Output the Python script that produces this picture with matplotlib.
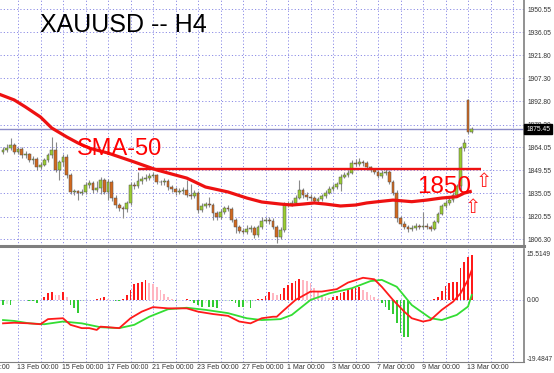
import matplotlib
matplotlib.use("Agg")
import matplotlib.pyplot as plt
import matplotlib.transforms as mtransforms

plt.rcParams['font.family'] = ['Liberation Sans', 'DejaVu Sans']

# XAUUSD H4 candles, oldest first (bar index = position on chart)
opens = [1861.0, 1862.4, 1863.7, 1865.5, 1861.2, 1863.0, 1859.2, 1859.5, 1856.1, 1856.8,
         1851.7, 1853.0, 1856.1, 1859.2, 1862.4, 1849.9, 1854.9, 1858.0, 1846.7, 1836.0,
         1836.3, 1835.4, 1836.0, 1840.4, 1841.7, 1837.3, 1838.6, 1843.6, 1836.0, 1842.3,
         1832.3, 1827.9, 1826.0, 1825.4, 1829.1, 1840.4, 1839.8, 1842.9, 1844.2, 1844.8,
         1846.1, 1846.4, 1842.3, 1842.0, 1842.9, 1839.2, 1837.9, 1836.0, 1836.7, 1837.3,
         1834.2, 1833.5, 1835.4, 1824.8, 1827.3, 1828.5, 1827.9, 1822.9, 1820.4, 1823.5,
         1826.0, 1825.4, 1818.5, 1814.1, 1811.6, 1810.9, 1812.8, 1813.2, 1809.1, 1814.1,
         1817.8, 1818.5, 1817.8, 1814.1, 1807.8, 1812.2, 1827.9, 1828.3, 1829.1, 1832.3,
         1837.3, 1834.2, 1832.9, 1832.3, 1830.4, 1831.6, 1833.5, 1835.4, 1837.9, 1839.2,
         1841.1, 1845.5, 1846.7, 1848.0, 1854.2, 1853.6, 1854.5, 1854.2, 1851.7, 1849.9,
         1848.6, 1846.1, 1848.0, 1848.6, 1842.3, 1835.4, 1819.7, 1816.0, 1814.1, 1812.8,
         1813.5, 1814.7, 1814.1, 1814.7, 1814.1, 1812.8, 1817.2, 1822.3, 1827.3, 1829.1,
         1831.0, 1834.2, 1839.8, 1863.7, 1893.8, 1873.7]
highs = [1864.5, 1866.0, 1870.0, 1867.0, 1864.5, 1864.0, 1861.5, 1860.5, 1858.5, 1858.0,
         1855.0, 1857.5, 1860.5, 1870.5, 1867.5, 1856.0, 1860.0, 1859.5, 1848.0, 1838.0,
         1837.5, 1838.0, 1842.0, 1843.5, 1843.0, 1843.0, 1845.5, 1845.0, 1844.0, 1843.5,
         1834.0, 1829.0, 1827.5, 1830.5, 1842.0, 1842.5, 1848.5, 1846.0, 1847.0, 1848.0,
         1848.5, 1847.5, 1843.5, 1844.5, 1844.0, 1840.5, 1839.0, 1838.5, 1839.0, 1843.5,
         1841.0, 1837.0, 1836.5, 1829.0, 1830.0, 1833.0, 1829.0, 1824.0, 1825.0, 1827.5,
         1828.0, 1826.5, 1819.5, 1815.5, 1813.5, 1815.0, 1815.5, 1814.5, 1815.5, 1820.0,
         1820.5, 1820.0, 1819.5, 1815.5, 1814.0, 1830.0, 1830.5, 1831.0, 1834.0, 1843.6,
         1838.5, 1836.0, 1834.5, 1833.5, 1833.0, 1835.0, 1837.0, 1839.5, 1841.0, 1842.5,
         1847.0, 1848.5, 1849.5, 1856.0, 1856.5, 1857.0, 1856.0, 1855.5, 1852.5, 1851.0,
         1850.0, 1849.5, 1850.5, 1849.5, 1843.5, 1837.0, 1821.0, 1817.5, 1815.5, 1815.0,
         1816.5, 1816.0, 1823.5, 1816.5, 1815.5, 1818.5, 1823.5, 1828.5, 1831.0, 1833.5,
         1836.0, 1841.0, 1865.0, 1869.0, 1894.0, 1876.5]
lows = [1859.5, 1861.0, 1862.5, 1859.8, 1859.5, 1857.5, 1857.0, 1854.5, 1853.5, 1850.0,
        1850.5, 1852.0, 1855.0, 1857.5, 1848.5, 1843.6, 1852.0, 1845.0, 1834.5, 1834.0,
        1831.0, 1834.0, 1835.0, 1838.5, 1835.5, 1836.0, 1835.0, 1834.5, 1831.0, 1830.5,
        1826.0, 1824.0, 1819.7, 1823.5, 1828.0, 1838.0, 1838.5, 1841.0, 1843.0, 1843.5,
        1844.5, 1841.0, 1840.5, 1840.5, 1837.5, 1836.0, 1834.0, 1834.5, 1835.0, 1833.0,
        1831.5, 1832.0, 1823.0, 1823.5, 1826.0, 1826.5, 1818.5, 1818.5, 1819.0, 1822.0,
        1824.0, 1817.0, 1810.5, 1810.0, 1809.5, 1809.5, 1811.0, 1807.0, 1807.5, 1813.0,
        1816.5, 1816.0, 1812.5, 1804.1, 1806.5, 1811.0, 1826.5, 1827.0, 1828.0, 1831.5,
        1832.5, 1831.0, 1830.5, 1829.0, 1829.5, 1830.5, 1832.5, 1834.5, 1836.5, 1838.0,
        1836.5, 1844.5, 1845.5, 1847.0, 1852.0, 1852.5, 1852.5, 1850.0, 1848.5, 1847.0,
        1845.0, 1845.0, 1846.5, 1841.0, 1834.0, 1817.0, 1814.5, 1812.5, 1811.0, 1811.5,
        1812.0, 1812.5, 1813.0, 1812.5, 1811.5, 1812.0, 1816.5, 1821.5, 1826.0, 1828.0,
        1830.0, 1833.5, 1836.0, 1862.0, 1872.5, 1873.0]
closes = [1862.4, 1863.7, 1865.5, 1861.2, 1863.0, 1859.2, 1859.5, 1856.1, 1856.8, 1851.7,
          1853.0, 1856.1, 1859.2, 1862.4, 1849.9, 1854.9, 1858.0, 1846.7, 1836.0, 1836.3,
          1835.4, 1836.0, 1840.4, 1841.7, 1837.3, 1838.6, 1843.6, 1836.0, 1842.3, 1832.3,
          1827.9, 1826.0, 1825.4, 1829.1, 1840.4, 1839.8, 1842.9, 1844.2, 1844.8, 1846.1,
          1846.4, 1842.3, 1842.0, 1842.9, 1839.2, 1837.9, 1836.0, 1836.7, 1837.3, 1834.2,
          1833.5, 1835.4, 1824.8, 1827.3, 1828.5, 1827.9, 1822.9, 1820.4, 1823.5, 1826.0,
          1825.4, 1818.5, 1814.1, 1811.6, 1810.9, 1812.8, 1813.2, 1809.1, 1814.1, 1817.8,
          1818.5, 1817.8, 1814.1, 1807.8, 1812.2, 1827.9, 1828.3, 1829.1, 1832.3, 1837.3,
          1834.2, 1832.9, 1832.3, 1830.4, 1831.6, 1833.5, 1835.4, 1837.9, 1839.2, 1841.1,
          1845.5, 1846.7, 1848.0, 1854.2, 1853.6, 1854.5, 1854.2, 1851.7, 1849.9, 1848.6,
          1846.1, 1848.0, 1848.6, 1842.3, 1835.4, 1819.7, 1816.0, 1814.1, 1812.8, 1813.5,
          1814.7, 1814.1, 1814.7, 1814.1, 1812.8, 1817.2, 1822.3, 1827.3, 1829.1, 1831.0,
          1834.2, 1839.8, 1863.7, 1866.8, 1873.7, 1875.45]

# SMA-50 (bar index, price)
sma_idx = [-1, 3, 6, 10, 13, 17, 20, 23, 28, 35, 41, 46, 49, 54, 60, 65, 69, 74, 77, 80,
           83, 86, 90, 94, 97, 100, 104, 109, 113, 117, 121, 123, 125]
sma_val = [1897.3, 1893.7, 1889.3, 1883.0, 1876.1, 1870.5, 1866.7, 1863.5, 1860.4, 1854.8,
           1849.8, 1846.6, 1844.7, 1839.1, 1836.0, 1832.2, 1829.7, 1828.4, 1827.8, 1828.4,
           1829.1, 1828.4, 1827.2, 1827.8, 1829.1, 1829.9, 1830.9, 1829.9, 1830.9, 1832.2,
           1833.0, 1835.3, 1836.5]

level_1850 = 1850.2
last_price = 1875.45
price_ticks = [1950.55, 1936.05, 1921.80, 1907.30, 1892.80, 1878.30, 1864.05,
               1849.55, 1835.05, 1820.55, 1806.30]

# MACD panel
hist = [-1.7, -1.2, -1.7, -0.3, -0.2, -0.1, 0.1, -0.2, -0.3, -0.9,
        0.1, 0.9, 2.2, 2.8, 1.7, 1.6, 2.8, 0.9, -1.7, -2.8,
        -4.2, -0.3, -0.2, 0.0, 0.1, 0.2, 0.6, 1.1, 0.2, 0.1,
        -0.3, -0.3, 0.4, 1.7, 3.3, 5.2, 5.8, 6.1, 6.7, 5.8,
        5.2, 4.4, 3.3, 2.0, 0.9, 0.3, -0.3, -0.2, 0.1, 0.2,
        -0.2, -1.0, -1.7, -2.2, -1.0, -2.2, -2.2, -2.8, -0.5, -0.3,
        -0.2, -0.5, -1.1, -2.2, -2.2, -1.0, -2.8, -0.3, 0.3, 0.3,
        1.3, 2.6, 2.2, 1.7, 2.0, 3.9, 5.0, 5.8, 6.4, 7.0,
        6.8, 6.4, 5.6, 3.9, 2.8, 1.7, 1.1, 0.6, 1.1, 1.3,
        2.2, 2.8, 3.3, 3.9, 4.1, 4.2, 3.3, 2.8, 1.7, 0.9,
        0.2, -1.1, -2.2, -3.3, -4.7, -7.8, -10.9, -12.2, -12.4, -0.1,
        0.0, 0.05, 0.1, 0.05, 0.1, 0.3, 0.9, 3.1, 4.8, 5.8,
        6.1, 6.1, 10.6, 12.8, 14.4, 15.0]
macd_idx = [0, 3, 7, 10, 12, 16, 18, 21, 23, 25, 26, 28, 31, 34, 37, 40, 44, 49, 52, 56,
            60, 63, 66, 69, 72, 73, 75, 78, 82, 85, 89, 92, 96, 99, 101, 104, 107, 109, 112, 114,
            117, 120, 122, 124, 125]
macd_val = [-7.8, -7.6, -7.8, -8.1, -6.4, -6.1, -8.3, -9.4, -9.4, -10.0, -8.9, -9.1, -9.4, -6.1,
            -3.9, -2.4, -2.8, -2.8, -3.9, -4.7, -5.3, -7.2, -7.8, -6.1, -5.6, -5.6, -3.3, 0.0,
            2.8, 2.8, 3.6, 5.8, 7.4, 6.9, 4.4, 0.0, -3.9, -6.1, -7.2, -6.7, -3.3, -0.6, 2.2,
            6.7, 10.0]
sig_idx = [0, 3, 7, 11, 16, 21, 26, 31, 35, 39, 44, 49, 54, 60, 65, 69, 74, 77, 82, 87,
           93, 98, 101, 105, 109, 114, 117, 121, 124, 125]
sig_val = [-6.7, -7.0, -7.8, -8.1, -7.2, -7.8, -9.1, -9.4, -8.3, -5.6, -3.1, -2.6, -3.3, -4.4,
           -6.1, -6.7, -6.4, -5.0, 0.0, 2.2, 3.9, 6.3, 6.7, 4.4, -1.7, -6.1, -6.7, -5.0, -2.2, 1.7]
macd_ticks = [15.5149, 0.0, -19.4847]
macd_tick_labels = ['15.5149', '0.00', '-19.4847']

date_idx = [-8, 4, 16, 28, 40, 52, 64, 76, 88, 100, 112, 124]
date_labels = ['9 Feb 00:00', '13 Feb 00:00', '15 Feb 00:00', '17 Feb 00:00', '21 Feb 00:00',
               '23 Feb 00:00', '27 Feb 00:00', '1 Mar 00:00', '3 Mar 00:00', '7 Mar 00:00',
               '9 Mar 00:00', '13 Mar 00:00']

GRID = '#8c8ce6'
AXIS = '#7f7f7f'
DOT = (0, (1.2, 2.2))

fig = plt.figure(figsize=(5.54, 3.73), dpi=100)
ax = fig.add_axes([0, 127 / 373, 524 / 554, 246 / 373])
ax2 = fig.add_axes([0, 11 / 373, 524 / 554, 113 / 373])

xlim = (-0.8, 138.93)
vgrid = list(range(4, 139, 6))

# ---- price panel
ax.set_xlim(*xlim)
ax.set_ylim(1802.1, 1956.4)
for g in vgrid:
    ax.axvline(g, color=GRID, lw=0.7, ls=DOT, zorder=0)
for p in price_ticks:
    ax.axhline(p, color=GRID, lw=0.7, ls=DOT, zorder=0)
ax.axhline(last_price, color='#8c8cc8', lw=1.0, zorder=1)

n = len(closes)
xs = list(range(n))
ax.vlines(xs, lows, highs, color='#8a8a8a', lw=0.8, zorder=2)
bottoms = [min(o, c) for o, c in zip(opens, closes)]
heights = [max(abs(c - o), 0.25) for o, c in zip(opens, closes)]
colors = ['#9acd32' if c >= o else '#d2691e' for o, c in zip(opens, closes)]
ax.bar(xs, heights, bottom=bottoms, width=0.72, color=colors,
       edgecolor='#505050', linewidth=0.35, zorder=3)

ax.plot(sma_idx, sma_val, color='#ee1111', lw=2.3, zorder=5, solid_capstyle='butt')
ax.hlines(level_1850, 36, 127.5, color='#ee1111', lw=1.7, zorder=5)

ax.text(9.9, 1936.4, 'XAUUSD -- H4', fontsize=18, color='black', va='baseline')
ax.text(19.7, 1859.3, 'SMA-50', fontsize=17, color='#ff0000', va='baseline', zorder=6)
ax.text(110.4, 1835.6, '1850', fontsize=17.5, color='#ff0000', va='baseline', zorder=6)
ax.text(128.3, 1842.3, '\u21e7', fontsize=14, color='#ff2020', ha='center', va='center',
        family='DejaVu Sans', zorder=6)
ax.text(125.3, 1826.0, '\u21e7', fontsize=14, color='#ff2020', ha='center', va='center',
        family='DejaVu Sans', zorder=6)

ax.set_xticks([])
ax.yaxis.tick_right()
ax.set_yticks(price_ticks)
ax.set_yticklabels(['%.2f' % p for p in price_ticks])
ax.tick_params(axis='y', length=0, pad=2.5, labelsize=4.8, labelcolor='#333333')
for s in ['top', 'left']:
    ax.spines[s].set_visible(False)
ax.spines['right'].set_color(AXIS)
ax.spines['right'].set_linewidth(1.2)
ax.spines['bottom'].set_color(AXIS)
ax.spines['bottom'].set_linewidth(2.2)

trans = mtransforms.blended_transform_factory(ax.transAxes, ax.transData)
ax.text(1.004, last_price, '%.2f' % last_price, transform=trans, fontsize=4.8, color='white',
        va='center', ha='left', zorder=10,
        bbox=dict(boxstyle='square,pad=0.25', fc='black', ec='black'))

# ---- MACD panel
ax2.set_xlim(*xlim)
ax2.set_ylim(-20.7, 17.0)
for g in vgrid:
    ax2.axvline(g, color=GRID, lw=0.7, ls=DOT, zorder=0)
ax2.axhline(0, color=GRID, lw=0.7, ls=DOT, zorder=0)

hcol = []
prev = 0.0
for v in hist:
    if v >= 0:
        hcol.append('#ff1a1a' if v >= prev else '#ffb6c1')
    else:
        hcol.append('#33cc33' if v <= prev else '#d8f5d8')
    prev = v
ax2.bar(xs, hist, width=0.5, color=hcol, linewidth=0, zorder=2)
ax2.plot(sig_idx, sig_val, color='#33dd33', lw=1.3, zorder=3)
ax2.plot(macd_idx, macd_val, color='#ff1a1a', lw=1.3, zorder=4)

ax2.yaxis.tick_right()
ax2.set_yticks(macd_ticks)
ax2.set_yticklabels(macd_tick_labels)
ax2.tick_params(axis='y', length=0, pad=2, labelsize=4.8, labelcolor='#333333')
ax2.set_xticks([])
for s in ['top', 'left']:
    ax2.spines[s].set_visible(False)
ax2.spines['right'].set_color(AXIS)
ax2.spines['right'].set_linewidth(1.2)
ax2.spines['bottom'].set_color(AXIS)
ax2.spines['bottom'].set_linewidth(0.8)

dtrans = mtransforms.blended_transform_factory(ax2.transData, ax2.transAxes)
for i, lab in zip(date_idx, date_labels):
    ax2.text(i - 0.3, -0.045, lab, transform=dtrans, fontsize=5, color='#333333',
             ha='left', va='center', clip_on=False)

fig.savefig('out.png', dpi=100)
